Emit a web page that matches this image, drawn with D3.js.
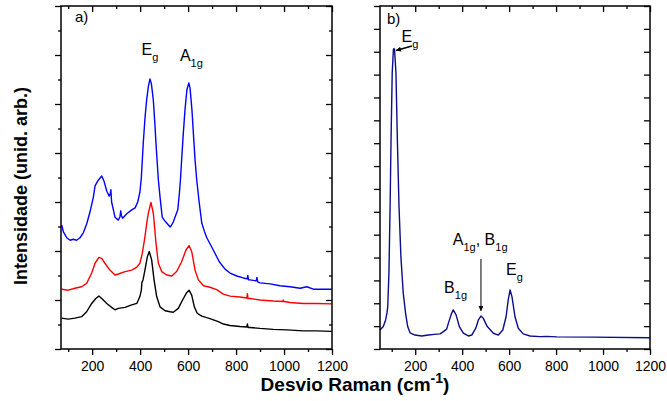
<!DOCTYPE html>
<html>
<head>
<meta charset="utf-8">
<script src="https://cdn.jsdelivr.net/npm/d3@7"></script>
<style>
  body { margin: 0; background: #fff; }
  text { font-family: Arial, "Liberation Sans", sans-serif; }
</style>
</head>
<body>
<div id="board"></div>
<script>
// ---- data: [wavenumber (cm-1), intensity (arb.)] ----
// panel a) three spectra, stacked
const spectrumBlue = [[73,253],[80,239],[94,227],[108,222],[121,224],[135,222],[149,227],[163,237],[177,255],[191,280],[205,310],[212,333],[226,345],[240,353],[249,343],[261,322],[271,312],[276,318],[278,325],[281,300],[288,285],[295,269],[309,263],[316,270],[319,282],[322,272],[327,267],[344,276],[365,284],[379,288],[390,300],[399,320],[405,350],[413,420],[420,470],[427,508],[434,535],[441,551],[447,541],[455,508],[462,455],[466,420],[472,375],[476,345],[483,310],[492,269],[502,262],[511,257],[525,249],[530,252],[538,259],[557,284],[564,320],[568,345],[573,386],[580,440],[587,488],[595,529],[603,543],[608,533],[616,488],[622,440],[629,386],[636,345],[645,304],[657,257],[668,240],[678,227],[705,202],[730,178],[754,163],[775,155],[803,149],[830,145],[846,143],[849,150],[852,141],[858,141],[884,139],[887,146],[890,137],[900,135],[942,133],[983,129],[1025,127],[1067,124],[1095,127],[1122,122],[1164,122],[1199,122]];
const spectrumRed = [[73,122],[100,120],[128,124],[156,127],[177,134],[198,155],[212,175],[228,187],[240,185],[253,175],[274,161],[295,151],[309,153],[337,158],[365,161],[386,167],[399,175],[409,195],[420,229],[427,255],[434,277],[445,299],[455,277],[461,245],[466,216],[476,175],[490,158],[511,151],[532,149],[552,158],[573,178],[591,202],[604,211],[615,199],[622,180],[629,161],[643,141],[664,129],[691,126],[719,121],[747,112],[775,108],[816,106],[845,104],[847,113],[850,103],[858,103],[900,100],[955,98],[995,97],[997,100],[1000,97],[1025,95],[1080,93],[1136,93],[1199,92]];
const spectrumBlack = [[73,63],[100,61],[128,63],[156,66],[177,76],[198,93],[215,103],[228,108],[240,103],[261,93],[281,85],[295,80],[309,83],[337,85],[365,90],[386,93],[399,107],[405,120],[407,135],[412,141],[420,161],[430,188],[438,199],[448,182],[458,141],[469,107],[483,86],[504,78],[525,76],[538,75],[559,83],[577,100],[594,115],[604,120],[615,110],[626,86],[638,73],[657,67],[691,62],[726,56],[747,51],[775,48],[816,46],[845,45],[847,51],[850,44],[858,44],[900,42],[955,40],[1012,39],[1080,37],[1136,37],[1199,36]];
// panel b) single spectrum
const spectrumNavy = [[50,83],[64,98],[74,127],[80,160],[83,185],[88,331],[93,622],[97,914],[102,1206],[107,1310],[110,1314],[112,1308],[118,1206],[124,914],[131,622],[139,404],[149,244],[159,156],[168,98],[178,71],[199,61],[228,57],[256,61],[281,64],[306,66],[320,76],[334,87],[341,112],[355,156],[362,171],[374,149],[388,98],[405,69],[426,57],[441,61],[458,91],[469,127],[480,144],[490,134],[507,98],[533,69],[554,61],[573,83],[587,141],[596,214],[604,258],[612,229],[625,141],[639,91],[660,66],[689,57],[731,54],[760,55],[803,53],[957,52],[1200,49]];

// ticks
const xMajorTicks = [200, 400, 600, 800, 1000, 1200];
const xMinorTicks = [100, 300, 500, 700, 900, 1100];
const yMajorA = [0, 100, 200, 300, 400, 500, 600, 700];
const yMinorA = [50, 150, 250, 350, 450, 550, 650];
const yMajorB = d3.range(0, 1501, 100);

// labels: [main, subscript, wavenumber, intensity]
const labelsA = [["E", "g", 406, 601], ["A", "1g", 566, 588]];
const labelsB = [["E", "g", 142, 1344], ["B", "1g", 323, 244], ["E", "g", 587, 324]];

const width = 667, height = 401;
const svg = d3.select("#board").append("svg")
    .attr("width", width).attr("height", height);

const defs = svg.append("defs");
defs.append("marker").attr("id", "head")
    .attr("viewBox", "0 0 10 10").attr("refX", 10).attr("refY", 5)
    .attr("markerWidth", 7).attr("markerHeight", 5).attr("orient", "auto")
    .attr("markerUnits", "userSpaceOnUse")
    .append("path").attr("d", "M0,0L10,5L0,10z").attr("fill", "#000");

// scales
const xA = d3.scaleLinear().domain([70, 1200]).range([61, 332]);
const yA = d3.scaleLinear().domain([0, 700]).range([349, 6]);
const xB = d3.scaleLinear().domain([50, 1200]).range([380, 650]);
const yB = d3.scaleLinear().domain([0, 1500]).range([349, 6]);

function frame(x, y, yMaj, yMin) {
    const [x0, x1] = x.range();
    const [y0, y1] = y.range();
    const g = svg.append("g");
    const clean = s => s.call(a => a.select(".domain").remove())
        .attr("stroke-width", 1.3);

    // bottom (outward, labelled)
    const bottom = g.append("g").attr("transform", `translate(0,${y0})`)
        .call(d3.axisBottom(x).tickValues(xMajorTicks).tickSize(6).tickPadding(6)
            .tickFormat(d3.format("d")))
        .call(clean)
        .attr("font-size", 14);
    bottom.selectAll("line").attr("stroke-width", 1.3);
    g.append("g").attr("transform", `translate(0,${y0})`)
        .call(d3.axisBottom(x).tickValues(xMinorTicks).tickSize(3).tickFormat(""))
        .call(clean).selectAll("line").attr("stroke-width", 1.3);
    // top (inward)
    g.append("g").attr("transform", `translate(0,${y1})`)
        .call(d3.axisTop(x).tickValues(xMajorTicks).tickSize(-6).tickFormat(""))
        .call(clean).selectAll("line").attr("stroke-width", 1.3);
    g.append("g").attr("transform", `translate(0,${y1})`)
        .call(d3.axisTop(x).tickValues(xMinorTicks).tickSize(-3).tickFormat(""))
        .call(clean).selectAll("line").attr("stroke-width", 1.3);
    // left (outward)
    g.append("g").attr("transform", `translate(${x0},0)`)
        .call(d3.axisLeft(y).tickValues(yMaj).tickSize(6).tickFormat(""))
        .call(clean).selectAll("line").attr("stroke-width", 1.3);
    // right (inward)
    g.append("g").attr("transform", `translate(${x1},0)`)
        .call(d3.axisRight(y).tickValues(yMaj).tickSize(-6).tickFormat(""))
        .call(clean).selectAll("line").attr("stroke-width", 1.3);
    if (yMin.length) {
        g.append("g").attr("transform", `translate(${x0},0)`)
            .call(d3.axisLeft(y).tickValues(yMin).tickSize(3).tickFormat(""))
            .call(clean).selectAll("line").attr("stroke-width", 1.3);
        g.append("g").attr("transform", `translate(${x1},0)`)
            .call(d3.axisRight(y).tickValues(yMin).tickSize(-3).tickFormat(""))
            .call(clean).selectAll("line").attr("stroke-width", 1.3);
    }
    g.append("rect").attr("x", x0).attr("y", y1)
        .attr("width", x1 - x0).attr("height", y0 - y1)
        .attr("fill", "none").attr("stroke", "#000").attr("stroke-width", 1.5);
}

function spectrum(x, y, data, color) {
    svg.append("path").datum(data)
        .attr("fill", "none").attr("stroke", color)
        .attr("stroke-width", 1.4).attr("stroke-linejoin", "round")
        .attr("d", d3.line().x(d => x(d[0])).y(d => y(d[1])));
}

function label(x, y, d) {
    const t = svg.append("text").attr("x", x(d[2])).attr("y", y(d[3]))
        .attr("font-size", 16).text(d[0]);
    t.append("tspan").attr("font-size", 11).attr("dy", 6).text(d[1]);
}

// panel a
spectrum(xA, yA, spectrumBlack, "#000000");
spectrum(xA, yA, spectrumRed, "#ff0000");
spectrum(xA, yA, spectrumBlue, "#0000ff");
frame(xA, yA, yMajorA, yMinorA);
labelsA.forEach(d => label(xA, yA, d));
svg.append("text").attr("x", xA(128)).attr("y", yA(667)).attr("font-size", 15).text("a)");

// panel b
spectrum(xB, yB, spectrumNavy, "#0c0c8c");
frame(xB, yB, yMajorB, []);
labelsB.forEach(d => label(xB, yB, d));
svg.append("text").attr("x", xB(80)).attr("y", yB(1421)).attr("font-size", 15).text("b)");

// combined A1g, B1g label and arrows
const ab = svg.append("text").attr("x", xB(360)).attr("y", yB(455)).attr("font-size", 16).text("A");
ab.append("tspan").attr("font-size", 11).attr("dy", 6).text("1g");
ab.append("tspan").attr("dy", -6).text(", B");
ab.append("tspan").attr("font-size", 11).attr("dy", 6).text("1g");

svg.append("line")
    .attr("x1", xB(480)).attr("y1", yB(394))
    .attr("x2", xB(480)).attr("y2", yB(166))
    .attr("stroke", "#000").attr("stroke-width", 1)
    .attr("marker-end", "url(#head)");
svg.append("line")
    .attr("x1", xB(186)).attr("y1", yB(1325))
    .attr("x2", xB(118)).attr("y2", yB(1305))
    .attr("stroke", "#000").attr("stroke-width", 1.5)
    .attr("marker-end", "url(#head)");

// axis titles
const xt = svg.append("text").attr("x", 355).attr("y", 391)
    .attr("text-anchor", "middle").attr("font-size", 19).attr("font-weight", "bold")
    .text("Desvio Raman (cm");
xt.append("tspan").attr("font-size", 14).attr("dy", -8).text("-1");
xt.append("tspan").attr("dy", 8).text(")");

svg.append("text")
    .attr("transform", "translate(27,186) rotate(-90)")
    .attr("text-anchor", "middle").attr("font-size", 18).attr("font-weight", "bold")
    .text("Intensidade (unid. arb.)");
</script>
</body>
</html>
